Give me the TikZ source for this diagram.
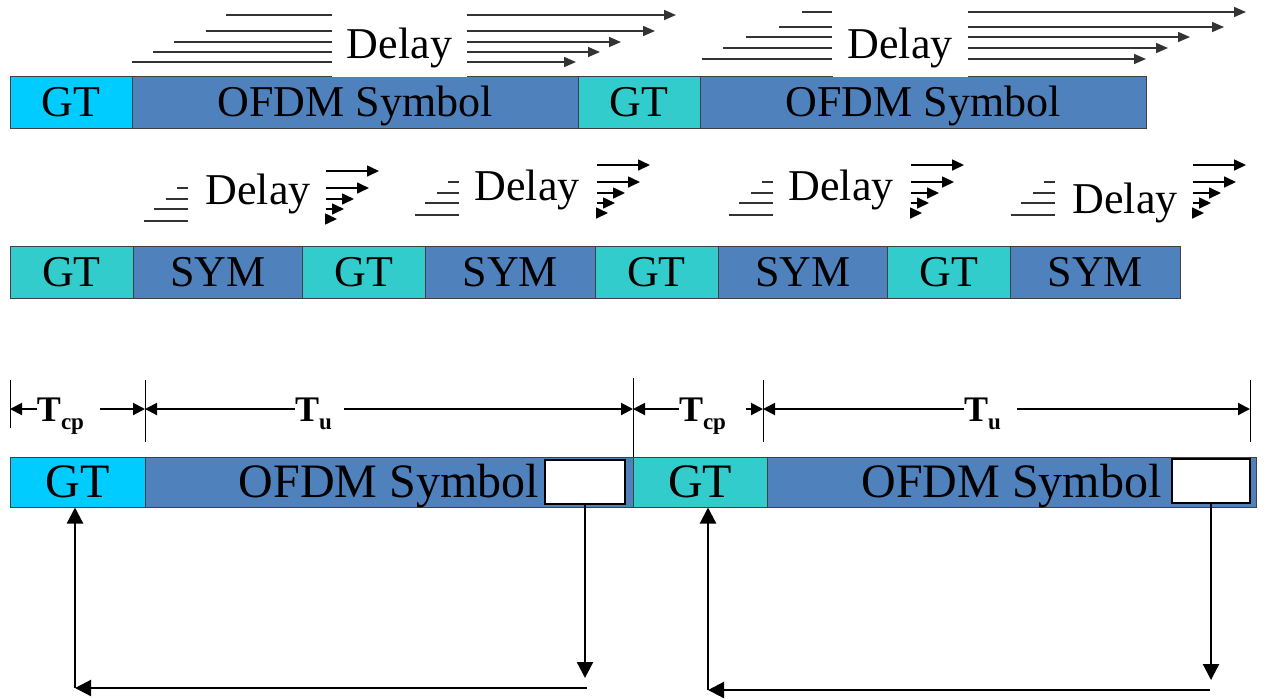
\documentclass[tikz,border=0pt]{standalone}
\usepackage{fontspec}
\setmainfont{Liberation Serif}
\usetikzlibrary{arrows.meta}

\definecolor{gtcyan}{HTML}{00CCFF}
\definecolor{gtteal}{HTML}{33CCCC}
\definecolor{symblue}{HTML}{4F81BD}

\tikzset{
  barcell/.style={draw=black!75, line width=0.5pt, inner sep=0pt, minimum height=26pt,
    text height=14.5pt, text depth=0pt, font=\fontsize{22}{26}\selectfont},
  bigcell/.style={minimum height=25pt, text height=15.8pt, font=\fontsize{24}{28}\selectfont},
  gtc/.style={barcell, fill=gtcyan},
  gtt/.style={barcell, fill=gtteal},
  symb/.style={barcell, fill=symblue},
  wbox/.style={draw=black, line width=1.1pt, fill=white, inner sep=0pt,
    minimum width=40pt, minimum height=22pt},
  bigdelay/.style={fill=white, inner sep=0pt, minimum width=67.5pt, minimum height=33pt,
    text height=14.5pt, text depth=0pt, font=\fontsize{22}{26}\selectfont},
  delay/.style={inner sep=0pt, text height=14.5pt, text depth=0pt, font=\fontsize{22}{26}\selectfont},
  dline/.style={draw=black!80, line width=0.75pt},
  darr/.style={dline, -{Triangle[length=6pt,width=5pt]}},
  sarr/.style={draw=black, line width=0.8pt, -{Triangle[length=6pt,width=5.5pt]}},
  tick/.style={draw=black, line width=0.5pt},
  dim/.style={draw=black, line width=1pt, -{Triangle[length=6pt,width=6pt]}},
  tlab/.style={inner sep=0pt, anchor=base, font=\fontsize{18}{20}\bfseries},
  larr/.style={draw=black, line width=1.1pt, -{Triangle[length=8pt,width=8pt]}}
}

\begin{document}
\begin{tikzpicture}[x=0.5pt,y=-0.5pt]
\useasboundingbox (0,0) rectangle (1267,698);

% row 1
\node[gtc, minimum width=61pt] (gt1) at (71,102) {GT};
\node[symb, minimum width=223pt] (of1) at (355,102) {OFDM Symbol};
\node[gtt, minimum width=61pt] (gt2) at (639,102) {GT};
\node[symb, minimum width=223pt] (of2) at (923,102) {OFDM Symbol};

% long delay spreads
\foreach \y/\a/\b in {15/226/676,31/206/655,42/174/621,52/153/600,62/132/576}{
  \draw[dline] (\a,\y) -- (332,\y);
  \draw[darr] (467,\y) -- (\b,\y);
}
\foreach \y/\a/\b in {12/802/1246,27/779/1224,37/746/1190,48/723/1168,59/702/1146}{
  \draw[dline] (\a,\y) -- (832,\y);
  \draw[darr] (968,\y) -- (\b,\y);
}
\node[bigdelay] (dt1) at (399.5,44) {Delay};
\node[bigdelay] (dt2) at (900,44) {Delay};

% row 2
\foreach \i in {0,...,3}{
  \node[gtt, minimum width=61.5pt] (g\i) at ({71.5+292.5*\i},272) {GT};
  \node[symb, minimum width=84.75pt] (s\i) at ({217.75+292.5*\i},272) {SYM};
}

% short delay spreads
\foreach \n/\xs/\yo/\dx/\dy in {1/326/171/258/190,2/597/165/527/186,3/911/165/841/186,4/1193/165/1125/199}{
  \node[delay] (dl\n) at (\dx,\dy) {Delay};
  \foreach \t/\l in {0/53,17/43,28/28,38/18,48/11}
    \draw[sarr] (\xs,{\yo+\t}) -- ({\xs+\l},{\yo+\t});
  \foreach \t/\l in {17/11,28/22,38/34,50/44}
    \draw[dline] ({\xs-138-\l},{\yo+\t}) -- ({\xs-138},{\yo+\t});
}

% row 3 with cyclic prefix
\coordinate (k1) at (10,409);
\coordinate (k2) at (145,409);
\coordinate (k3) at (633,409);
\coordinate (k4) at (763,409);
\coordinate (k5) at (1250,409);
\draw[tick] (10,380) -- (10,428);
\draw[tick] (145,380) -- (145,442);
\draw[tick] (633,378) -- (633,457);
\draw[tick] (763,380) -- (763,442);
\draw[tick] (1250,380) -- (1250,442);

\node[tlab] (tcp1) at (60.5,421) {T\raisebox{-4pt}{\fontsize{11.5}{11}\selectfont cp}};
\node[tlab] (tu1) at (313.5,421) {T\raisebox{-4pt}{\fontsize{11.5}{11}\selectfont u}};
\node[tlab] (tcp2) at (702.5,421) {T\raisebox{-4pt}{\fontsize{11.5}{11}\selectfont cp}};
\node[tlab] (tu2) at (982.5,421) {T\raisebox{-4pt}{\fontsize{11.5}{11}\selectfont u}};

\draw[dim] (tcp1.west |- k1) -- (k1);
\draw[dim, shorten <=8pt] (tcp1.east |- k2) -- (k2);
\draw[dim] (tu1.west |- k2) -- (k2);
\draw[dim, shorten <=6pt] (tu1.east |- k3) -- (k3);
\draw[dim] (tcp2.west |- k3) -- (k3);
\draw[dim, shorten <=10pt] (tcp2.east |- k4) -- (k4);
\draw[dim] (tu2.west |- k4) -- (k4);
\draw[dim, shorten <=8pt] (tu2.east |- k5) -- (k5);

\node[gtc, bigcell, minimum width=67.5pt] (gt3) at (77.5,482) {GT};
\node[symb, bigcell, minimum width=244pt] (of3) at (389,482) {OFDM Symbol};
\node[gtt, bigcell, minimum width=67pt] (gt4) at (700,482) {GT};
\node[symb, bigcell, minimum width=244.5pt] (of4) at (1011.5,482) {OFDM Symbol};
\node[wbox] (w1) at (585,482) {};
\node[wbox, minimum width=39pt] (w2) at (1211,481) {};

% copy of the tail back to the front
\coordinate (c1) at (587,688);
\coordinate (c2) at (75,688);
\coordinate (c3) at (1210,690);
\coordinate (c4) at (708,690);
\draw[larr] (w1.south) -- ([yshift=5pt]w1.south |- c1);
\draw[larr] (c1) -- (c2);
\draw[larr] (c2) -- (c2 |- gt3.south);
\draw[larr] (w2.south) -- ([yshift=5pt]w2.south |- c3);
\draw[larr] (c3) -- (c4);
\draw[larr] (c4) -- (c4 |- gt4.south);
\end{tikzpicture}
\end{document}
